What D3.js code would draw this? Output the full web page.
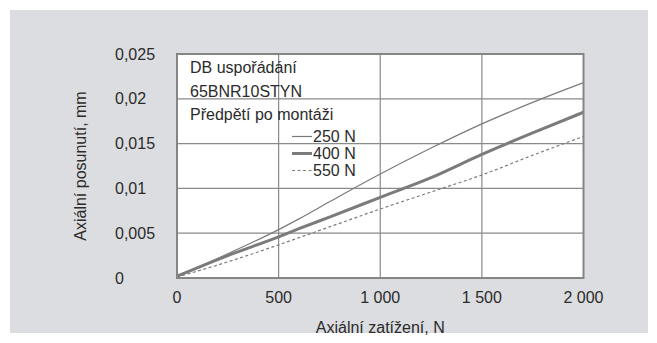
<!DOCTYPE html>
<html>
<head>
<meta charset="utf-8">
<script src="https://cdn.jsdelivr.net/npm/d3@7"></script>
<style>
  html, body { margin: 0; padding: 0; background: #ffffff; }
  svg { display: block; }
  text { font-family: "Liberation Sans", Arial, sans-serif; fill: #2b2b2b; }
</style>
</head>
<body>
<svg id="chart" width="657" height="343"></svg>
<script>
// Axial load (N) and axial displacement (mm) per preload
const loads = [0, 250, 500, 600, 750, 1000, 1250, 1500, 1750, 2000];
const disp250 = [0.0002, 0.0027, 0.0054, 0.0066, 0.0085, 0.0116, 0.0145, 0.0172, 0.0196, 0.0218];
const disp400 = [0.0002, 0.0025, 0.0046, 0.0055, 0.0068, 0.0090, 0.0112, 0.0138, 0.0162, 0.0185];
const disp550 = [0.0001, 0.0018, 0.0037, 0.0045, 0.0057, 0.0077, 0.0096, 0.0115, 0.0137, 0.0158];

const seriesNames = ["250 N", "400 N", "550 N"];
const xTicks = [0, 500, 1000, 1500, 2000];
const yTicks = [0, 0.005, 0.01, 0.015, 0.02, 0.025];
const xTickLabels = ["0", "500", "1 000", "1 500", "2 000"];
const yTickLabels = ["0", "0,005", "0,01", "0,015", "0,02", "0,025"];
const legendTitle = ["DB uspořádání", "65BNR10STYN", "Předpětí po montáži"];

const svg = d3.select("#chart");
const W = 657, H = 343;

// panel background
svg.append("rect").attr("x", 10).attr("y", 10).attr("width", 638).attr("height", 323)
  .attr("fill", "#dcdde0");

const plot = { left: 177, right: 583.5, top: 54, bottom: 278 };
const x = d3.scaleLinear().domain([0, 2000]).range([plot.left, plot.right]);
const y = d3.scaleLinear().domain([0, 0.025]).range([plot.bottom, plot.top]);

// plot area
svg.append("rect").attr("x", plot.left).attr("y", plot.top)
  .attr("width", plot.right - plot.left).attr("height", plot.bottom - plot.top)
  .attr("fill", "#ffffff");

// grid
const grid = svg.append("g").attr("stroke", "#8a8a8a").attr("stroke-width", 1.2);
grid.selectAll("line.v").data(xTicks.slice(1, -1)).join("line")
  .attr("x1", d => x(d)).attr("x2", d => x(d)).attr("y1", plot.top).attr("y2", plot.bottom);
grid.selectAll("line.h").data(yTicks.slice(1, -1)).join("line")
  .attr("x1", plot.left).attr("x2", plot.right).attr("y1", d => y(d)).attr("y2", d => y(d));

// curves
const styles = [
  { data: disp250, width: 1.2, dash: null },
  { data: disp400, width: 3, dash: null },
  { data: disp550, width: 1.2, dash: "3,2.5" }
];
const line = d3.line().x(d => x(d[0])).y(d => y(d[1])).curve(d3.curveMonotoneX);
styles.forEach(s => {
  svg.append("path")
    .datum(loads.map((l, i) => [l, s.data[i]]))
    .attr("d", line)
    .attr("fill", "none")
    .attr("stroke", "#7b7b7d")
    .attr("stroke-width", s.width)
    .attr("stroke-dasharray", s.dash);
});

// frame
svg.append("rect").attr("x", plot.left).attr("y", plot.top)
  .attr("width", plot.right - plot.left).attr("height", plot.bottom - plot.top)
  .attr("fill", "none").attr("stroke", "#858585").attr("stroke-width", 2);

// axes labels
const fs = 16;
svg.append("g").selectAll("text").data(yTicks).join("text")
  .attr("x", 115).attr("y", d => y(d)).attr("dy", "0.35em")
  .attr("font-size", fs).text((d, i) => yTickLabels[i]);

svg.append("g").selectAll("text").data(xTicks).join("text")
  .attr("x", d => x(d)).attr("y", 297).attr("dy", "0.35em")
  .attr("text-anchor", "middle").attr("font-size", fs).text((d, i) => xTickLabels[i]);

svg.append("text").attr("x", (plot.left + plot.right) / 2).attr("y", 327).attr("dy", "0.35em")
  .attr("text-anchor", "middle").attr("font-size", fs).text("Axiální zatížení, N");

svg.append("text").attr("transform", `translate(80,${(plot.top + plot.bottom) / 2}) rotate(-90)`)
  .attr("dy", "0.35em").attr("text-anchor", "middle").attr("font-size", fs)
  .text("Axiální posunutí, mm");

// legend
const lg = svg.append("g");
legendTitle.forEach((t, i) => {
  lg.append("text").attr("x", 190).attr("y", [73, 97, 120][i])
    .attr("font-size", fs).text(t);
});
const legendY = [142, 159, 176];
seriesNames.forEach((name, i) => {
  const yy = legendY[i] - 5.5;
  lg.append("line").attr("x1", 292).attr("x2", 312).attr("y1", yy).attr("y2", yy)
    .attr("stroke", "#7b7b7d").attr("stroke-width", styles[i].width)
    .attr("stroke-dasharray", styles[i].dash);
  lg.append("text").attr("x", 313).attr("y", legendY[i])
    .attr("font-size", fs).text(name);
});
</script>
</body>
</html>
